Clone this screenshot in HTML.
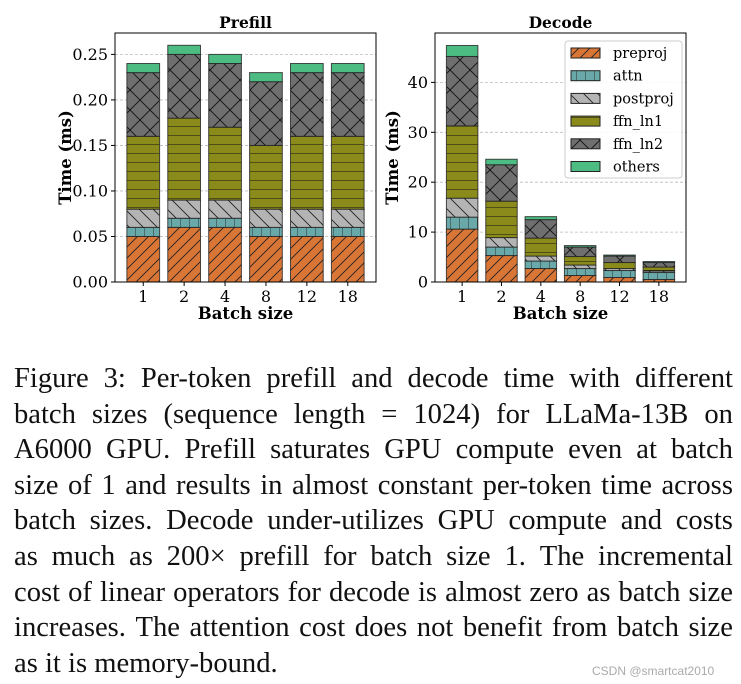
<!DOCTYPE html>
<html><head><meta charset="utf-8"><style>
body{margin:0;background:#fff;width:741px;height:684px;overflow:hidden;position:relative}
#cap{position:absolute;left:14px;top:361px;width:719px;font-family:"Liberation Serif",serif;font-size:28.6px;line-height:35.6px;color:#111}
#cap div{white-space:nowrap;display:flex;justify-content:space-between}
#cap div.last{justify-content:flex-start}
#wm{position:absolute;left:592px;top:664px;font-family:"Liberation Sans",sans-serif;font-size:12px;color:#aaa}
</style></head><body>
<svg id="chart" width="741" height="350" style="position:absolute;left:0;top:0" xmlns="http://www.w3.org/2000/svg">
<defs>
<pattern id="h-pre" patternUnits="userSpaceOnUse" width="11" height="11"><rect width="11" height="11" fill="#d97636"/><path d="M0,11 L11,0 M-3,3 L3,-3 M8,14 L14,8" stroke="#222" stroke-width="0.9"/></pattern>
<pattern id="h-attn" patternUnits="userSpaceOnUse" width="9" height="9"><rect width="9" height="9" fill="#6aa9a9"/><path d="M0,0 V9" stroke="#222" stroke-width="0.9"/></pattern>
<pattern id="h-post" patternUnits="userSpaceOnUse" width="14" height="14"><rect width="14" height="14" fill="#b4b4b4"/><path d="M0,0 L14,14 M-7,7 L7,21 M7,-7 L21,7" stroke="#222" stroke-width="0.9"/></pattern>
<pattern id="h-f1" patternUnits="userSpaceOnUse" width="9" height="9"><rect width="9" height="9" fill="#8b8b1c"/><path d="M0,0 H9" stroke="#111" stroke-width="1"/></pattern>
<pattern id="h-f2" patternUnits="userSpaceOnUse" width="20" height="20"><rect width="20" height="20" fill="#6f6f6f"/><path d="M0,0 L20,20 M20,0 L0,20" stroke="#111" stroke-width="0.9"/></pattern>
<pattern id="h-oth" patternUnits="userSpaceOnUse" width="9" height="9"><rect width="9" height="9" fill="#4cbc82"/></pattern>
</defs>
</svg>
<div id="cap">
<div><span>Figure</span><span>3:</span><span>Per-token</span><span>prefill</span><span>and</span><span>decode</span><span>time</span><span>with</span><span>different</span></div>
<div><span>batch</span><span>sizes</span><span>(sequence</span><span>length</span><span>=</span><span>1024)</span><span>for</span><span>LLaMa-13B</span><span>on</span></div>
<div><span>A6000</span><span>GPU.</span><span>Prefill</span><span>saturates</span><span>GPU</span><span>compute</span><span>even</span><span>at</span><span>batch</span></div>
<div><span>size</span><span>of</span><span>1</span><span>and</span><span>results</span><span>in</span><span>almost</span><span>constant</span><span>per-token</span><span>time</span><span>across</span></div>
<div><span>batch</span><span>sizes.</span><span>Decode</span><span>under-utilizes</span><span>GPU</span><span>compute</span><span>and</span><span>costs</span></div>
<div><span>as</span><span>much</span><span>as</span><span>200×</span><span>prefill</span><span>for</span><span>batch</span><span>size</span><span>1.</span><span>The</span><span>incremental</span></div>
<div><span>cost</span><span>of</span><span>linear</span><span>operators</span><span>for</span><span>decode</span><span>is</span><span>almost</span><span>zero</span><span>as</span><span>batch</span><span>size</span></div>
<div><span>increases.</span><span>The</span><span>attention</span><span>cost</span><span>does</span><span>not</span><span>benefit</span><span>from</span><span>batch</span><span>size</span></div>
<div class="last">as it is memory-bound.</div>
</div>
<div id="wm">CSDN @smartcat2010</div>
<script>
const categories=["1","2","4","8","12","18"];
const seriesNames=["preproj","attn","postproj","ffn_ln1","ffn_ln2","others"];
const prefillPreproj=[0.05,0.06,0.06,0.05,0.05,0.05];
const prefillAttn=[0.01,0.01,0.01,0.01,0.01,0.01];
const prefillPostproj=[0.02,0.02,0.02,0.02,0.02,0.02];
const prefillFfn1=[0.08,0.09,0.08,0.07,0.08,0.08];
const prefillFfn2=[0.07,0.07,0.07,0.07,0.07,0.07];
const prefillOthers=[0.01,0.01,0.01,0.01,0.01,0.01];
const decodePreproj=[10.6,5.3,2.7,1.3,0.9,0.5];
const decodeAttn=[2.4,1.7,1.5,1.4,1.4,1.4];
const decodePostproj=[3.8,1.9,1.0,0.7,0.4,0.3];
const decodeFfn1=[14.5,7.3,3.6,1.7,1.2,0.8];
const decodeFfn2=[13.9,7.3,3.7,1.9,1.3,0.9];
const decodeOthers=[2.2,1.1,0.6,0.3,0.2,0.2];
const prefillTicks=["0.00","0.05","0.10","0.15","0.20","0.25"];
const decodeTicks=["0","10","20","30","40"];

const svg=document.getElementById('chart');
const NS='http://www.w3.org/2000/svg';
const fills=['url(#h-pre)','url(#h-attn)','url(#h-post)','url(#h-f1)','url(#h-f2)','url(#h-oth)'];
function mk(tag,attrs,parent){const e=document.createElementNS(NS,tag);for(const k in attrs)e.setAttribute(k,attrs[k]);(parent||svg).appendChild(e);return e;}
function txt(s,attrs,name){const e=mk('text',attrs);e.textContent=s;


return e;}

function drawChart(cfg){
  const {left,right,top,bottom,ymax,series,ticks,title,key}=cfg;
  const n=categories.length;
  const xmin=-0.69,xmax=n-1+0.69;
  const X=v=>left+(v-xmin)/(xmax-xmin)*(right-left);
  const Y=v=>bottom-v/ymax*(bottom-top);
  const g=mk('g',{});
  
  
  ticks.forEach(t=>{const v=parseFloat(t);const y=Y(v);
    if(v>0){const gl=mk('line',{x1:left,x2:right,y1:y,y2:y,stroke:'#bbb','stroke-width':0.8,'stroke-dasharray':'3,2'},g);
      
      }
    mk('line',{x1:left-4,x2:left,y1:y,y2:y,stroke:'#000'},g);
    txt(t,{x:left-7,y:y+5.5,'text-anchor':'end','font-family':'DejaVu Serif,serif','font-size':16},key+'-y-tick');
  });
  const bw=0.8*(X(1)-X(0));
  for(let i=0;i<n;i++){
    let acc=0;const cx=X(i);
    series.forEach((s,j)=>{const y0=Y(acc);acc+=s[i];const y1=Y(acc);
      const r=mk('rect',{x:cx-bw/2,y:y1,width:bw,height:y0-y1,fill:fills[j],stroke:'#222','stroke-width':1,'stroke-opacity':0.8},g);
      
      
    });
    mk('line',{x1:cx,x2:cx,y1:bottom,y2:bottom+4,stroke:'#000'},g);
    txt(categories[i],{x:cx,y:bottom+20,'text-anchor':'middle','font-family':'DejaVu Serif,serif','font-size':16},key+'-x-tick');
  }
  mk('rect',{x:left,y:top,width:right-left,height:bottom-top,fill:'none',stroke:'#000','stroke-width':1},g);
  txt(title,{x:(left+right)/2,y:top-5,'text-anchor':'middle','font-family':'DejaVu Serif,serif','font-size':15.5,'font-weight':'bold'},key+'-title');
  txt('Batch size',{x:(left+right)/2,y:bottom+37,'text-anchor':'middle','font-family':'DejaVu Serif,serif','font-size':16.5,'font-weight':'bold'},key+'-x-axis-title');
  txt('Time (ms)',{x:0,y:0,'text-anchor':'middle','font-family':'DejaVu Serif,serif','font-size':16.5,'font-weight':'bold',transform:`translate(${cfg.ylx},${(top+bottom)/2}) rotate(-90)`},key+'-y-axis-title');
}
drawChart({left:115,right:376,top:33,bottom:282,ymax:0.2735,series:[prefillPreproj,prefillAttn,prefillPostproj,prefillFfn1,prefillFfn2,prefillOthers],ticks:prefillTicks,title:'Prefill',key:'prefill',ylx:71});
drawChart({left:435,right:686,top:33,bottom:282,ymax:49.9,series:[decodePreproj,decodeAttn,decodePostproj,decodeFfn1,decodeFfn2,decodeOthers],ticks:decodeTicks,title:'Decode',key:'decode',ylx:398});

const lg=mk('g',{});


mk('rect',{x:565,y:41,width:117,height:137,rx:3,fill:'#fff','fill-opacity':0.85,stroke:'#ccc'},lg);
seriesNames.forEach((s,j)=>{const y=53+j*22.7;
  const p=mk('rect',{x:571,y:y-5,width:29,height:10,fill:fills[j],stroke:'#222','stroke-width':1},lg);
  
  
  txt(s,{x:613,y:y+5,'font-family':'DejaVu Serif,serif','font-size':14.5},'legend-entry-'+s);
});
</script>
</body></html>
